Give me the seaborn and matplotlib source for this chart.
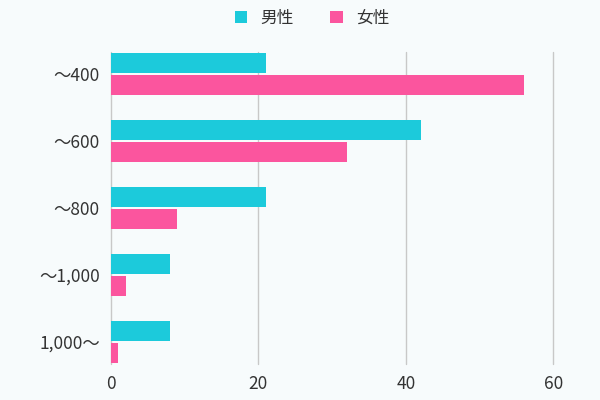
import seaborn as sns
import pandas as pd
import matplotlib.pyplot as plt

categories = ['～400', '～600', '～800', '～1,000', '1,000～']
male = [21, 42, 21, 8, 8]
female = [56, 32, 9, 2, 1]
series = ['男性', '女性']
colors = ['#1ccadb', '#fb559e']

df = pd.DataFrame({
    'range': categories * 2,
    'count': male + female,
    'sex': [series[0]] * len(categories) + [series[1]] * len(categories),
})

sns.set_style('white')
plt.rcParams['font.family'] = ['Noto Sans CJK JP', 'DejaVu Sans']

fig = plt.figure(figsize=(6, 4), dpi=100, facecolor='#f7fbfc')
ax = fig.add_axes([0.185, 0.09, 0.737, 0.78])
ax.set_facecolor('#f7fbfc')

sns.barplot(data=df, y='range', x='count', hue='sex', orient='h',
            palette=colors, saturation=1, width=0.66, gap=0.08,
            linewidth=0, ax=ax, legend=True)

ax.set_xlim(0, 60)
ax.set_ylim(4.33, -0.33)
ax.set_xticks([0, 20, 40, 60])
ax.xaxis.grid(True, color='#c8c8c8', linewidth=1)
for gl in ax.get_xgridlines():
    gl.set_clip_on(False)
ax.set_axisbelow(True)
for s in ax.spines.values():
    s.set_visible(False)
ax.tick_params(axis='both', length=0, labelsize=12.5, colors='#333333', pad=8)
ax.set_xlabel('')
ax.set_ylabel('')

handles, labels = ax.get_legend_handles_labels()
ax.get_legend().remove()
fig.legend(handles, labels, loc='center', bbox_to_anchor=(0.52, 0.955),
           ncol=2, frameon=False, fontsize=12, handlelength=0.75,
           handleheight=0.75, columnspacing=2.2, handletextpad=0.8,
           labelcolor='#333333')

fig.savefig('out.png', dpi=100, facecolor=fig.get_facecolor())
